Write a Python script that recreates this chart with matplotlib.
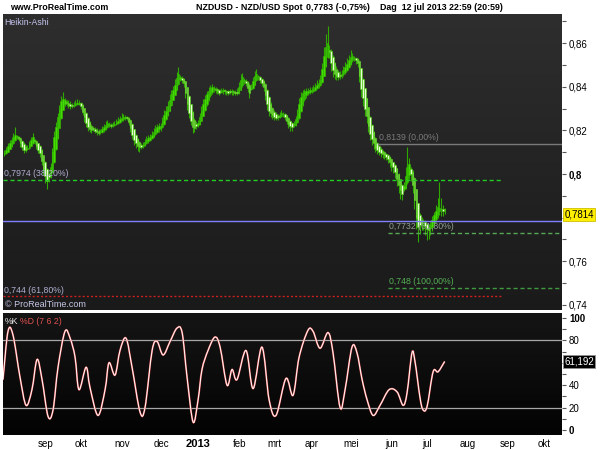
import numpy as np
import pandas as pd
import matplotlib
matplotlib.use("Agg")
import matplotlib.pyplot as plt
from matplotlib.colors import LinearSegmentedColormap
from matplotlib.path import Path
from matplotlib.patches import PathPatch
import matplotlib.transforms as mtransforms

plt.rcParams['font.family'] = ['Liberation Sans', 'DejaVu Sans']

# NZD/USD daily Heikin-Ashi closes, 31 jul 2012 .. 12 jul 2013
ha_close = [
    0.8098, 0.8110, 0.8128, 0.8140, 0.8156, 0.8168, 0.8180, 0.8172, 0.8160, 0.8140,
    0.8125, 0.8110, 0.8108, 0.8120, 0.8138, 0.8155, 0.8168, 0.8150, 0.8130, 0.8112,
    0.8096, 0.8060, 0.8020, 0.7990, 0.7970, 0.7985, 0.8030, 0.8100, 0.8170, 0.8215,
    0.8260, 0.8300, 0.8335, 0.8345, 0.8338, 0.8325, 0.8318, 0.8310, 0.8312, 0.8318,
    0.8322, 0.8325, 0.8326, 0.8310, 0.8285, 0.8260, 0.8235, 0.8215, 0.8205, 0.8200,
    0.8205, 0.8198, 0.8192, 0.8190, 0.8195, 0.8205, 0.8215, 0.8225, 0.8232, 0.8228,
    0.8222, 0.8225, 0.8230, 0.8238, 0.8245, 0.8252, 0.8258, 0.8262, 0.8260, 0.8258,
    0.8240, 0.8210, 0.8180, 0.8155, 0.8140, 0.8130, 0.8122, 0.8125, 0.8135, 0.8148,
    0.8158, 0.8165, 0.8170, 0.8180, 0.8192, 0.8205, 0.8215, 0.8218, 0.8222, 0.8245,
    0.8270, 0.8290, 0.8310, 0.8340, 0.8365, 0.8385, 0.8410, 0.8440, 0.8460, 0.8445,
    0.8430, 0.8415, 0.8370, 0.8320, 0.8280, 0.8245, 0.8215, 0.8210, 0.8220, 0.8232,
    0.8260, 0.8290, 0.8320, 0.8345, 0.8365, 0.8380, 0.8392, 0.8400, 0.8395, 0.8385,
    0.8378, 0.8372, 0.8380, 0.8385, 0.8380, 0.8376, 0.8372, 0.8375, 0.8380, 0.8376,
    0.8372, 0.8370, 0.8400, 0.8430, 0.8445, 0.8430, 0.8418, 0.8395, 0.8370, 0.8395,
    0.8425, 0.8450, 0.8460, 0.8445, 0.8430, 0.8417, 0.8400, 0.8360, 0.8320, 0.8290,
    0.8280, 0.8270, 0.8262, 0.8258, 0.8260, 0.8270, 0.8280, 0.8275, 0.8262, 0.8245,
    0.8230, 0.8220, 0.8215, 0.8230, 0.8250, 0.8275, 0.8320, 0.8355, 0.8370, 0.8378,
    0.8382, 0.8380, 0.8383, 0.8385, 0.8390, 0.8400, 0.8410, 0.8418, 0.8430, 0.8480,
    0.8540, 0.8580, 0.8600, 0.8560, 0.8510, 0.8476, 0.8460, 0.8450, 0.8445, 0.8448,
    0.8460, 0.8475, 0.8490, 0.8505, 0.8520, 0.8536, 0.8540, 0.8530, 0.8520, 0.8510,
    0.8450, 0.8390, 0.8350, 0.8300, 0.8265, 0.8220, 0.8185, 0.8160, 0.8140, 0.8120,
    0.8110, 0.8102, 0.8098, 0.8092, 0.8085, 0.8080, 0.8070, 0.8055, 0.8040, 0.8030,
    0.8010, 0.7975, 0.7950, 0.7925, 0.7910, 0.7945, 0.7990, 0.8030, 0.8045, 0.8000,
    0.7950, 0.7880, 0.7800, 0.7757, 0.7765, 0.7772, 0.7778, 0.7760, 0.7748, 0.7743,
    0.7765, 0.7790, 0.7810, 0.7830, 0.7850, 0.7845, 0.7838, 0.7832, 0.7835,
]
# upper / lower shadows beyond the body, in pips
wick_up = [
    10, 14, 12, 18, 15, 20, 35, 8, 4, 3,
    2, 6, 10, 14, 12, 16, 22, 5, 3, 2,
    4, 2, 3, 5, 6, 15, 20, 18, 25, 22,
    20, 18, 24, 30, 12, 8, 10, 14, 10, 12,
    16, 20, 14, 6, 4, 3, 2, 5, 6, 8,
    10, 8, 6, 9, 12, 14, 16, 18, 15, 10,
    8, 12, 14, 16, 18, 15, 20, 14, 10, 6,
    4, 3, 2, 3, 5, 6, 8, 10, 12, 14,
    16, 12, 14, 16, 18, 20, 16, 14, 12, 18,
    22, 20, 24, 26, 22, 20, 25, 28, 32, 10,
    8, 6, 3, 2, 2, 3, 5, 8, 12, 14,
    18, 20, 22, 18, 16, 20, 14, 12, 10, 8,
    6, 8, 12, 10, 8, 6, 8, 12, 10, 8,
    6, 18, 22, 26, 20, 8, 6, 4, 6, 16,
    20, 24, 22, 10, 6, 4, 3, 2, 2, 4,
    6, 8, 10, 12, 10, 12, 14, 10, 6, 4,
    3, 4, 8, 14, 18, 22, 26, 20, 14, 12,
    10, 12, 14, 12, 16, 18, 20, 16, 22, 30,
    40, 60, 80, 20, 8, 6, 8, 10, 12, 16,
    18, 20, 22, 26, 24, 30, 14, 10, 8, 6,
    4, 3, 2, 2, 3, 2, 2, 3, 4, 3,
    5, 6, 8, 6, 5, 6, 4, 3, 5, 4,
    3, 3, 2, 4, 6, 20, 40, 95, 30, 10,
    6, 4, 3, 2, 10, 14, 12, 10, 8, 10,
    14, 16, 18, 30, 40, 120, 50, 20, 10,
]
wick_dn = [
    8, 4, 3, 2, 3, 4, 2, 6, 10, 14,
    16, 12, 8, 4, 3, 2, 4, 12, 14, 16,
    18, 20, 24, 30, 40, 20, 8, 4, 3, 2,
    2, 3, 2, 4, 10, 14, 16, 12, 10, 8,
    6, 4, 8, 14, 16, 20, 18, 16, 14, 12,
    10, 12, 14, 12, 10, 8, 6, 4, 5, 8,
    10, 8, 6, 4, 3, 5, 4, 8, 10, 12,
    14, 18, 20, 22, 20, 24, 20, 12, 8, 6,
    4, 6, 5, 4, 3, 4, 6, 10, 12, 8,
    5, 4, 3, 2, 2, 3, 2, 3, 4, 12,
    14, 18, 22, 26, 24, 22, 26, 18, 12, 8,
    4, 3, 2, 4, 6, 8, 10, 12, 14, 12,
    10, 12, 8, 10, 12, 14, 12, 10, 12, 14,
    12, 6, 4, 3, 8, 14, 16, 20, 24, 6,
    4, 3, 4, 12, 14, 16, 18, 22, 26, 24,
    20, 16, 14, 10, 12, 8, 6, 10, 14, 18,
    20, 22, 20, 8, 5, 4, 3, 6, 8, 10,
    12, 10, 8, 10, 8, 6, 5, 8, 6, 4,
    3, 4, 6, 30, 36, 30, 24, 20, 16, 12,
    10, 8, 6, 4, 6, 5, 10, 14, 16, 18,
    30, 36, 40, 34, 30, 28, 30, 26, 24, 20,
    18, 16, 20, 18, 16, 18, 20, 22, 24, 26,
    30, 32, 36, 40, 30, 10, 6, 8, 20, 30,
    36, 40, 50, 70, 40, 30, 36, 40, 50, 40,
    30, 20, 14, 10, 12, 20, 30, 26, 20,
]

# stochastic %K/%D (7 6 2): bar position -> value
stoch_x = [-0.8, 2.0, 4.8, 8.8, 12.2, 15.5, 18.4, 21.2, 24.6, 27.4, 30.2, 34.1, 37.0,
           39.8, 42.0, 46.0, 48.2, 52.7, 56.7, 58.9, 62.3, 65.1, 68.5, 71.9, 76.4,
           79.2, 83.2, 86.0, 89.4, 93.3, 97.2, 100.1, 102.9, 106.3, 109.1, 111.3,
           114.7, 118.6, 121.5, 125.4, 128.2, 131.0, 136.1, 140.1, 145.1, 149.1,
           153.0, 158.6, 162.6, 166.0, 171.0, 173.9, 177.8, 182.3, 185.1, 189.1,
           191.9, 195.8, 198.6, 201.5, 204.3, 207.7, 211.6, 216.7, 221.2, 224.6,
           226.8, 229.6, 231.3, 234.1, 235.8, 238.1, 241.5, 244.3, 248.0]
stoch_val = [45, 88, 85, 47, 22, 36, 63, 45, 12, 18, 56, 88, 82,
             65, 36, 56, 38, 13, 36, 60, 49, 71, 82, 56, 16,
             20, 71, 79, 67, 79, 91, 87, 47, 7, 27, 54,
             71, 83, 74, 40, 54, 45, 71, 37, 74, 27,
             13, 46, 31, 65, 89, 88, 73, 87, 69, 20,
             36, 74, 69, 45, 27, 13, 22, 36, 34, 22,
             33, 69, 61, 29, 18, 21, 52, 52, 61.192]

month_labels = ['sep', 'okt', 'nov', 'dec', '2013', 'feb', 'mrt', 'apr', 'mei',
                'jun', 'jul', 'aug', 'sep', 'okt']
price_ticks = [0.74, 0.76, 0.78, 0.80, 0.82, 0.84, 0.86]
price_tick_labels = ['0,74', '0,76', '', '0,8', '0,82', '0,84', '0,86']
stoch_ticks = [0, 20, 40, 60, 80, 100]
stoch_tick_labels = ['0', '20', '40', '', '80', '100']

# horizontal levels: (value, x from, x to, colour, style, label, label colour)
levels = [
    (0.8139, 210.5, 314.1, '#7a7a7a', '-', '0,8139 (0,00%)', '#7a7a7a'),
    (0.7974, -0.8, 280.9, '#22cc22', (0, (3, 2)), '0,7974 (38,20%)', '#aeaed0'),
    (0.7732, 216.0, 314.1, '#55a855', (0, (3, 2)), '0,7732 (61,80%)', '#8fa08f'),
    (0.748, 216.0, 314.1, '#3f9a3f', (0, (3, 2)), '0,748 (100,00%)', '#55b055'),
    (0.744, -0.8, 280.9, '#cc2020', (0, (1.5, 1.5)), '0,744 (61,80%)', '#aeaed0'),
]
last_price = 0.7814
price_line = 0.7783

# ---- Heikin-Ashi opens, highs, lows
ha_close = np.array(ha_close)
ha_open = np.empty_like(ha_close)
ha_open[0] = 0.8090
for i in range(1, len(ha_close)):
    ha_open[i] = (ha_open[i - 1] + ha_close[i - 1]) / 2
top = np.maximum(ha_open, ha_close)
bot = np.minimum(ha_open, ha_close)
ha_high = top + np.array(wick_up) / 10000
ha_low = bot - np.array(wick_dn) / 10000
bars = np.arange(len(ha_close))

days = pd.bdate_range('2012-07-31', '2013-10-31')
month_pos = [days.searchsorted(m) - 0.8 for m in pd.date_range('2012-09-01', '2013-10-01', freq='MS')]

fig = plt.figure(figsize=(6, 4.5), dpi=100, facecolor='white')
W, H = 600, 450
ax1 = fig.add_axes([3 / W, 1 - 310 / H, 559 / W, 296 / H])
ax2 = fig.add_axes([3 / W, 1 - 435 / H, 559 / W, 122 / H])

xlim = (-0.8, 314.1)
ylim1 = (0.7377, 0.8733)
ylim2 = (-4.5, 104.5)


def gradient(ax, c_top, c_bot):
    cmap = LinearSegmentedColormap.from_list('g', [c_bot, c_top])
    ax.imshow(np.linspace(0, 1, 256).reshape(-1, 1), cmap=cmap, origin='lower',
              extent=[0, 1, 0, 1], transform=ax.transAxes, aspect='auto', zorder=0)


def smooth_path(xs, ys):
    # cubic bezier through the read points (catmull-rom tangents)
    p = np.column_stack([xs, ys]).astype(float)
    verts = [p[0]]
    codes = [Path.MOVETO]
    for k in range(len(p) - 1):
        p0 = p[max(k - 1, 0)]
        p1, p2 = p[k], p[k + 1]
        p3 = p[min(k + 2, len(p) - 1)]
        verts += [p1 + (p2 - p0) / 6, p2 - (p3 - p1) / 6, p2]
        codes += [Path.CURVE4] * 3
    return Path(verts, codes)


gradient(ax1, '#2e2e2e', '#1a1a1a')
gradient(ax2, '#151515', '#030303')

# ---- candles
up = ha_close >= ha_open
ax1.vlines(bars, ha_low, ha_high, color='#2fa800', lw=0.8, zorder=2)
h = np.maximum(top - bot, 0.0003)
ax1.bar(bars[up], h[up], bottom=bot[up], width=0.85, color='#44dd00',
        edgecolor='#33bb00', lw=0.4, zorder=3)
ax1.bar(bars[~up], h[~up], bottom=bot[~up], width=0.85, color='#e4ffd4',
        edgecolor='#44cc00', lw=0.4, zorder=3)

# ---- levels
for val, x0, x1, col, ls, lab, lcol in levels:
    ax1.plot([x0, x1], [val, val], color=col, ls=ls, lw=1, zorder=4)
    ax1.text(x0 + 0.8 if x0 < 0 else x0 + 0.6, val + 0.0006, lab, color=lcol,
             fontsize=6.3, va='bottom', ha='left', zorder=5)
ax1.axhline(price_line, color='#8080ff', lw=1, zorder=4)

ax1.text(0.003, 0.985, 'Heikin-Ashi', transform=ax1.transAxes, color='#c4c4f0',
         fontsize=6.3, va='top', ha='left')
ax1.text(0.004, 0.005, '© ProRealTime.com', transform=ax1.transAxes, color='#c8c8e8',
         fontsize=6.5, va='bottom', ha='left')

ax1.set_xlim(xlim)
ax1.set_ylim(ylim1)
ax1.set_xticks([])
ax1.yaxis.tick_right()
ax1.set_yticks(price_ticks, price_tick_labels)
ax1.set_yticks(np.arange(0.74, 0.875, 0.01), minor=True)
ax1.tick_params(axis='y', which='both', colors='#555555', labelcolor='black',
                labelsize=7, length=3, pad=2, width=0.8)
for lab in ax1.get_yticklabels():
    if lab.get_text() == '0,8':
        lab.set_fontweight('bold')
for s in ax1.spines.values():
    s.set_visible(False)

trans1 = mtransforms.blended_transform_factory(ax1.transAxes, ax1.transData)
ax1.text(1.004, last_price, '0,7814', transform=trans1, fontsize=7, va='center',
         ha='left', color='black',
         bbox=dict(boxstyle='square,pad=0.15', fc='#ffee00', ec='#d0c000', lw=0.6))

# ---- stochastic panel
ax2.axhline(80, color='#a8a8a8', lw=0.9, zorder=2)
ax2.axhline(20, color='#a8a8a8', lw=0.9, zorder=2)
sp = smooth_path(stoch_x, stoch_val)
ax2.add_patch(PathPatch(sp, fc='none', ec='#e05050', lw=1.3, zorder=3))
ax2.add_patch(PathPatch(sp, fc='none', ec='white', lw=0.7, zorder=4))
ax2.text(0.003, 0.965, '%K', transform=ax2.transAxes, color='#e8e8e8',
         fontsize=6.3, va='top', ha='left')
ax2.text(0.031, 0.965, '%D (7 6 2)', transform=ax2.transAxes, color='#e05050',
         fontsize=6.3, va='top', ha='left')

ax2.set_xlim(xlim)
ax2.set_ylim(ylim2)
ax2.yaxis.tick_right()
ax2.set_yticks(stoch_ticks, stoch_tick_labels)
ax2.set_yticks(np.arange(0, 101, 10), minor=True)
ax2.tick_params(axis='y', which='both', colors='#555555', labelcolor='black',
                labelsize=7, length=3, pad=2, width=0.8)
for lab in ax2.get_yticklabels():
    if lab.get_text() in ('0', '100'):
        lab.set_fontweight('bold')
ax2.set_xticks(month_pos, month_labels)
ax2.tick_params(axis='x', length=0, labelsize=7, pad=3, labelcolor='black')
for lab in ax2.get_xticklabels():
    if lab.get_text() == '2013':
        lab.set_fontweight('bold')
        lab.set_fontsize(8)
for s in ax2.spines.values():
    s.set_visible(False)

trans2 = mtransforms.blended_transform_factory(ax2.transAxes, ax2.transData)
ax2.text(1.004, stoch_val[-1], '61,192', transform=trans2, fontsize=7, va='center',
         ha='left', color='white',
         bbox=dict(boxstyle='square,pad=0.15', fc='black', ec='#909090', lw=0.6))

# ---- header
hdr = dict(fontsize=6.4, fontweight='bold', va='center', ha='left')
fig.text(10 / W, 1 - 7 / H, 'www.ProRealTime.com', **hdr)
fig.text(196 / W, 1 - 7 / H, 'NZDUSD - NZD/USD Spot', **hdr)
fig.text(306 / W, 1 - 7 / H, '0,7783 (-0,75%)', **hdr)
fig.text(380 / W, 1 - 7 / H, 'Dag  12 jul 2013 22:59 (20:59)', **hdr)

fig.savefig('out.png', dpi=100, facecolor='white')
